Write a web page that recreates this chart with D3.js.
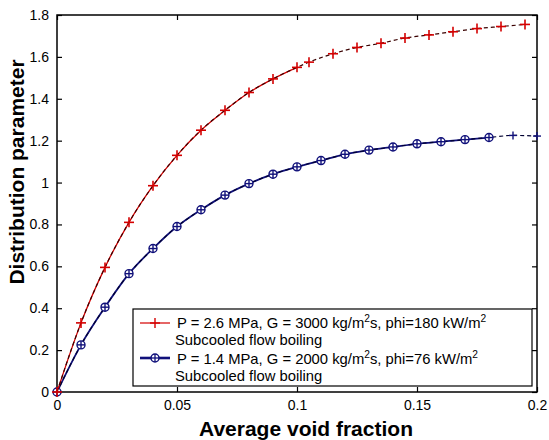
<!DOCTYPE html>
<html>
<head>
<meta charset="utf-8">
<script src="https://cdn.jsdelivr.net/npm/d3@7"></script>
<style>
  html, body { margin: 0; padding: 0; background: #fff; }
  svg { display: block; font-family: "Liberation Sans", Arial, sans-serif; }
</style>
</head>
<body>
<svg id="chart" width="549" height="440"></svg>
<script>
// Void fraction vs. distribution parameter, two subcooled flow boiling cases
const xTicks = [0, 0.05, 0.1, 0.15, 0.2];
const xTickLabels = ["0", "0.05", "0.1", "0.15", "0.2"];
const yTicks = [0, 0.2, 0.4, 0.6, 0.8, 1, 1.2, 1.4, 1.6, 1.8];
const yTickLabels = ["0", "0.2", "0.4", "0.6", "0.8", "1", "1.2", "1.4", "1.6", "1.8"];

// Case A: P = 2.6 MPa, G = 3000 kg/m2s
const voidA = [0, 0.01, 0.02, 0.03, 0.04, 0.05, 0.06, 0.07, 0.08, 0.09, 0.1,
               0.105, 0.115, 0.125, 0.135, 0.145, 0.155, 0.165, 0.175, 0.185, 0.195];
const distA = [0, 0.33, 0.595, 0.81, 0.985, 1.13, 1.25, 1.345, 1.43, 1.495, 1.55,
               1.575, 1.615, 1.645, 1.665, 1.69, 1.705, 1.72, 1.735, 1.745, 1.755];
const solidEndA = 0.1;

// Case B: P = 1.4 MPa, G = 2000 kg/m2s
const voidB = [0, 0.01, 0.02, 0.03, 0.04, 0.05, 0.06, 0.07, 0.08, 0.09, 0.1,
               0.11, 0.12, 0.13, 0.14, 0.15, 0.16, 0.17, 0.18, 0.19, 0.2];
const distB = [0, 0.225, 0.405, 0.565, 0.685, 0.79, 0.87, 0.94, 0.995, 1.04, 1.075,
               1.105, 1.135, 1.155, 1.17, 1.185, 1.195, 1.205, 1.215, 1.225, 1.222];
const solidEndB = 0.18;

const legendLabels = [
  ["P = 2.6 MPa, G = 3000 kg/m", "2", "s, phi=180 kW/m", "2"],
  ["P = 1.4 MPa, G = 2000 kg/m", "2", "s, phi=76 kW/m", "2"]
];
const legendSub = "Subcooled flow boiling";

const colA = "#d40000", colADash = "#3a0000";
const colB = "#10107a", colBDash = "#000030";

const svg = d3.select("#chart");
const m = { left: 57, right: 537, top: 15, bottom: 392 };

const x = d3.scaleLinear().domain([0, 0.2]).range([m.left, m.right]);
const y = d3.scaleLinear().domain([0, 1.8]).range([m.bottom, m.top]);

const ptsA = voidA.map((v, i) => [v, distA[i]]);
const ptsB = voidB.map((v, i) => [v, distB[i]]);

const line = d3.line().x(d => x(d[0])).y(d => y(d[1])).curve(d3.curveMonotoneX);

// axes with inward ticks on all four sides
function styleAxis(g) {
  g.select(".domain").remove();
  g.selectAll(".tick line").attr("stroke", "#000").attr("stroke-width", 1.2);
  g.selectAll(".tick text").attr("font-size", 14).attr("fill", "#000")
    .attr("font-family", "Liberation Sans, Arial, sans-serif");
}
svg.append("g").attr("transform", `translate(0,${m.bottom})`)
  .call(d3.axisBottom(x).tickValues(xTicks).tickSize(-5).tickPadding(8)
    .tickFormat((d, i) => xTickLabels[i]))
  .call(styleAxis);
svg.append("g").attr("transform", `translate(0,${m.top})`)
  .call(d3.axisTop(x).tickValues(xTicks).tickSize(-5).tickFormat(""))
  .call(styleAxis);
svg.append("g").attr("transform", `translate(${m.left},0)`)
  .call(d3.axisLeft(y).tickValues(yTicks).tickSize(-5).tickPadding(8)
    .tickFormat((d, i) => yTickLabels[i]))
  .call(styleAxis);
svg.append("g").attr("transform", `translate(${m.right},0)`)
  .call(d3.axisRight(y).tickValues(yTicks).tickSize(-5).tickFormat(""))
  .call(styleAxis);

// frame
svg.append("rect")
  .attr("x", m.left).attr("y", m.top)
  .attr("width", m.right - m.left).attr("height", m.bottom - m.top)
  .attr("fill", "none").attr("stroke", "#000").attr("stroke-width", 1.5);

function plus(g, cx, cy, s, col, w) {
  g.append("line").attr("x1", cx - s).attr("x2", cx + s).attr("y1", cy).attr("y2", cy)
    .attr("stroke", col).attr("stroke-width", w);
  g.append("line").attr("x1", cx).attr("x2", cx).attr("y1", cy - s).attr("y2", cy + s)
    .attr("stroke", col).attr("stroke-width", w);
}

const plot = svg.append("g");

// Case B curve
plot.append("path").datum(ptsB.filter(d => d[0] <= solidEndB))
  .attr("d", line).attr("fill", "none").attr("stroke", colB).attr("stroke-width", 1.8);
plot.append("path").datum(ptsB)
  .attr("d", line).attr("fill", "none").attr("stroke", colBDash).attr("stroke-width", 1.2)
  .attr("stroke-dasharray", "4,3");
ptsB.filter(d => d[0] <= solidEndB).forEach(d => {
  plot.append("circle").attr("cx", x(d[0])).attr("cy", y(d[1])).attr("r", 4)
    .attr("fill", "#fff").attr("stroke", colB).attr("stroke-width", 1.4);
});
ptsB.forEach(d => plus(plot, x(d[0]), y(d[1]), 4, colB, 1.4));

// Case A curve
plot.append("path").datum(ptsA.filter(d => d[0] <= solidEndA))
  .attr("d", line).attr("fill", "none").attr("stroke", colA).attr("stroke-width", 1.3);
plot.append("path").datum(ptsA)
  .attr("d", line).attr("fill", "none").attr("stroke", colADash).attr("stroke-width", 1.2)
  .attr("stroke-dasharray", "4,3");
ptsA.forEach(d => plus(plot, x(d[0]), y(d[1]), 5, colA, 1.6));

// legend
const lg = svg.append("g");
lg.append("rect").attr("x", 133).attr("y", 309).attr("width", 399).attr("height", 77)
  .attr("fill", "#fff").attr("stroke", "#000").attr("stroke-width", 1.2);

const legendFont = 14.8, supFont = 10.2;
function legendText(yb, parts) {
  const t = lg.append("text").attr("x", 177).attr("y", yb).attr("font-size", legendFont).attr("fill", "#000");
  t.append("tspan").text(parts[0]);
  t.append("tspan").attr("dy", -6).attr("font-size", supFont).text(parts[1]);
  t.append("tspan").attr("dy", 6).text(parts[2]);
  t.append("tspan").attr("dy", -6).attr("font-size", supFont).text(parts[3]);
}
lg.append("line").attr("x1", 140).attr("x2", 170).attr("y1", 323).attr("y2", 323)
  .attr("stroke", colA).attr("stroke-width", 1.2);
plus(lg, 155, 323, 5, colA, 1.4);
legendText(328, legendLabels[0]);
lg.append("text").attr("x", 175).attr("y", 345).attr("font-size", legendFont).text(legendSub);

lg.append("line").attr("x1", 140).attr("x2", 170).attr("y1", 358).attr("y2", 358)
  .attr("stroke", colB).attr("stroke-width", 2.6);
lg.append("circle").attr("cx", 155).attr("cy", 358).attr("r", 4)
  .attr("fill", "#fff").attr("stroke", colB).attr("stroke-width", 1.5);
plus(lg, 155, 358, 4, colB, 1.3);
legendText(364, legendLabels[1]);
lg.append("text").attr("x", 175).attr("y", 381).attr("font-size", legendFont).text(legendSub);

// axis titles
svg.append("text").attr("x", 306).attr("y", 436)
  .attr("text-anchor", "middle").attr("font-size", 21).attr("font-weight", "bold")
  .text("Average void fraction");
svg.append("text").attr("transform", `translate(24,172) rotate(-90)`)
  .attr("text-anchor", "middle").attr("font-size", 21).attr("font-weight", "bold")
  .text("Distribution parameter");
</script>
</body>
</html>
